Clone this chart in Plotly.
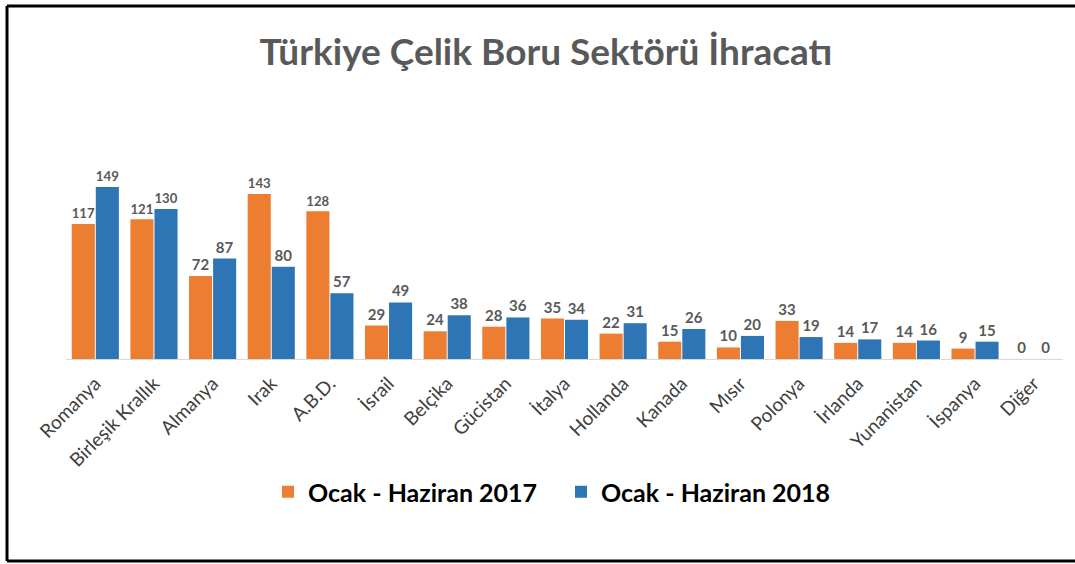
import plotly.graph_objects as go

# Ülkeler ve ihracat değerleri (bin ton)
countries = ["Romanya", "Birleşik Krallık", "Almanya", "Irak", "A.B.D.", "İsrail",
             "Belçika", "Gücistan", "İtalya", "Hollanda", "Kanada", "Mısır",
             "Polonya", "İrlanda", "Yunanistan", "İspanya", "Diğer"]
values_2017 = [117, 121, 72, 143, 128, 29, 24, 28, 35, 22, 15, 10, 33, 14, 14, 9, 0]
values_2018 = [149, 130, 87, 80, 57, 49, 38, 36, 34, 31, 26, 20, 19, 17, 16, 15, 0]

ORANGE = "#ED7D31"
BLUE = "#2E75B6"
FONT = "Lato"

# plot area in pixels (used to place the frame and legend)
W, H = 1075, 564
L, R, T, B = 66, 12, 170, 205
pw, ph = W - L - R, H - T - B


def px_x(x):
    return (x - L) / pw


def px_y(y):
    return (H - B - y) / ph


fig = go.Figure()
fig.add_trace(go.Bar(
    x=countries, y=values_2017, name="<b>Ocak - Haziran 2017</b>",
    marker=dict(color=ORANGE, line=dict(width=0)),
    texttemplate="<b>%{y}</b>", textposition="outside", cliponaxis=False,
    textfont=dict(family=FONT, size=15, color="#595959"),
))
fig.add_trace(go.Bar(
    x=countries, y=values_2018, name="<b>Ocak - Haziran 2018</b>",
    marker=dict(color=BLUE, line=dict(width=0)),
    texttemplate="<b>%{y}</b>", textposition="outside", cliponaxis=False,
    textfont=dict(family=FONT, size=15, color="#595959"),
))

# frame (left, top, bottom lines)
frame = dict(type="line", xref="paper", yref="paper", line=dict(color="black", width=3))
fig.add_shape(x0=px_x(7), x1=px_x(7), y0=px_y(6), y1=px_y(561), **frame)
fig.add_shape(x0=px_x(7), x1=px_x(1080), y0=px_y(6), y1=px_y(6), **frame)
fig.add_shape(x0=px_x(7), x1=px_x(1080), y0=px_y(561), y1=px_y(561), **frame)

fig.update_layout(
    width=W, height=H,
    margin=dict(l=L, r=R, t=T, b=B),
    paper_bgcolor="white", plot_bgcolor="white",
    barmode="group", bargap=0.18, bargroupgap=0.04,
    title=dict(text="<b>Türkiye Çelik Boru Sektörü İhracatı</b>",
               x=546 / W, xanchor="center",
               y=1 - 52 / H, yanchor="middle",
               font=dict(family=FONT, size=37, color="#595959")),
    legend=dict(orientation="h", x=px_x(561), xanchor="center",
                y=px_y(492), yanchor="middle",
                font=dict(family=FONT, size=25, color="black"),
                itemwidth=30, entrywidth=248, entrywidthmode="pixels",
                traceorder="normal"),
    font=dict(family=FONT),
    xaxis=dict(tickangle=-45, showline=True, linecolor="#D9D9D9", linewidth=1,
               ticks="", ticklabelstandoff=5,
               tickfont=dict(family=FONT, size=19, color="#404040")),
    yaxis=dict(visible=False, range=[0, ph / (172 / 149)]),
)

fig.write_html("out.html", config={"displayModeBar": False},
               post_script="document.body.style.margin='0';")
